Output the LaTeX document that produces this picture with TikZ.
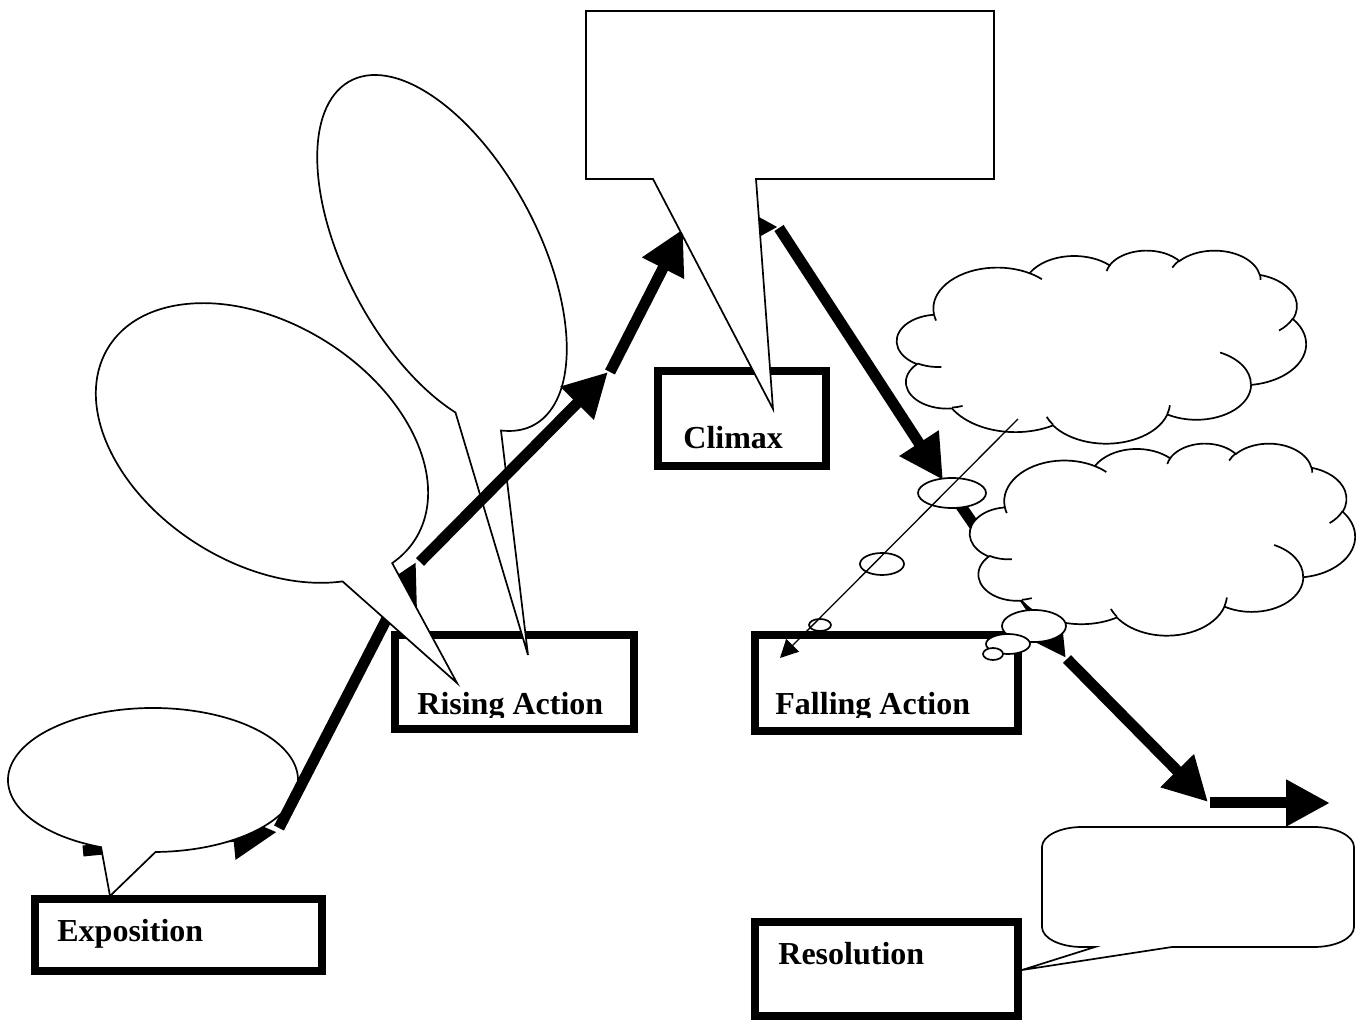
\documentclass[tikz,border=0pt]{standalone}
\usepackage{fontspec}
\setmainfont{Liberation Serif}
\usepackage{tikz}
\usetikzlibrary{arrows.meta,calc}

% cloud outline of a thought callout, in a 432 x 432 box
\newcommand{\thinkcloud}{%
  \filldraw[bubble] (39.00,143.70)
    foreach \rx/\ry/\sa/\sw [evaluate={\sa as \tbeg using atan2(\rx*sin(\sa),\ry*cos(\sa))},
        evaluate={\sw as \tsweep using mod(atan2(\rx*sin(\sa+\sw),\ry*cos(\sa+\sw))-atan2(\rx*sin(\sa),\ry*cos(\sa))+720,360)}]
    in {67.53/91.90/-190.4875/123.7805, 53.33/72.67/-144.1024/89.9452,
        43.65/59.45/-145.8079/99.7230, 48.57/65.95/-130.9861/117.2417,
        53.33/72.73/-78.7089/109.0269, 67.75/92.20/-46.2673/130.2690,
        57.85/78.67/0.6250/114.0333, 67.52/92.15/22.4516/115.1726,
        77.20/105.43/66.2426/75.7110, 43.60/59.18/-274.9421/146.7356,
        43.45/59.45/-246.8285/152.5189}
    { arc[start angle=\tbeg, delta angle=\tsweep, x radius=\rx, y radius=\ry] } -- cycle;
  % inner strokes of the puffs
  \draw[outline]
    foreach \px/\py/\rx/\ry/\sa/\sw [evaluate={\sa as \tbeg using atan2(\rx*sin(\sa),\ry*cos(\sa))},
        evaluate={\sw as \tsweep using mod(atan2(\rx*sin(\sa+\sw),\ry*cos(\sa+\sw))-atan2(\rx*sin(\sa),\ry*cos(\sa))+720,360)}]
    in {46.93/261.77/43.45/59.45/86.742/26.4295, 69.28/348.99/43.60/59.18/73.6105/11.4475,
        164.78/390.90/67.52/92.15/137.6242/14.0811, 288.27/347.51/67.52/92.15/6.4533/15.9984,
        341.29/229.54/57.85/78.67/-70.2924/70.9174, 417.98/153.54/53.33/72.73/30.3180/27.7515,
        383.24/54.26/48.57/65.95/-13.7443/14.8589, 290.78/39.52/48.57/65.95/-149.1815/18.1954,
        221.41/47.20/43.65/59.45/-163.4943/17.6864, 140.00/51.92/67.53/91.90/-66.7070/12.3194,
        41.27/157.89/67.53/91.90/157.6544/11.8582}
    { (\px,\py) arc[start angle=\tbeg, delta angle=\tsweep, x radius=\rx, y radius=\ry] };
}

\begin{document}
\begin{tikzpicture}[x=0.5pt, y=-0.5pt,
    outline/.style={draw=black, line width=0.85pt},
    bubble/.style={outline, fill=white},
    stage/.style={draw=black, line width=4pt, fill=white, inner sep=0pt},
    stagetext/.style={font=\bfseries\fontsize{16}{19}\selectfont, anchor=base west, inner sep=0pt},
    plot/.style={line width=5.5pt, -{Triangle[length=22pt, width=22pt]}},
    hint/.style={line width=0.65pt, -{Triangle[length=9pt, width=9pt]}}
]
\useasboundingbox (0,0) rectangle (1361,1020);

% points of the plot line
\coordinate (e0) at (83,851);   \coordinate (e1) at (277,832);
\coordinate (r0) at (279,828);  \coordinate (r1) at (416,562);
\coordinate (r2) at (420,562);  \coordinate (r3) at (608,372);
\coordinate (r4) at (610,372);  \coordinate (c0) at (683,229);
\coordinate (c1) at (690,227);  \coordinate (c2) at (778,227);
\coordinate (f0) at (779,228);  \coordinate (f1) at (943,480);
\coordinate (f2) at (945,483);  \coordinate (f3) at (1066,658);
\coordinate (f4) at (1067,659); \coordinate (s0) at (1208,802);
\coordinate (s1) at (1210,803); \coordinate (s2) at (1330,803);
\coordinate (t0) at (1018,419); \coordinate (t1) at (780,658);
% tips of the callout tails
\coordinate (tipE) at (110,896);
\coordinate (tipA) at (457,683);
\coordinate (tipB) at (528,655);
\coordinate (tipC) at (773,409);
\coordinate (tipR) at (1022,970);

% label boxes
\node[stage, minimum width=143.5pt, minimum height=36pt] (expbox) at (178.5,935) {};
\node[stage, minimum width=119.5pt, minimum height=47pt] (risebox) at (514.5,682) {};
\node[stage, minimum width=84pt, minimum height=47.5pt] (climbox) at (742,418.5) {};
\node[stage, minimum width=131.5pt, minimum height=48pt] (fallbox) at (886.5,683) {};
\node[stage, minimum width=131.5pt, minimum height=47pt] (resbox) at (886.5,969) {};

\draw[plot] (e0) -- (e1);
% exposition callout
\filldraw[bubble] (153,780) ++(111:145 and 72)
    arc[start angle=111, end angle=449, x radius=145, y radius=72] -- (tipE) -- cycle;
\draw[plot] (r0) -- (r1);

% rising action callouts
\begin{scope}[shift={(262,443)}, rotate=-32]
  \filldraw[bubble] (38.5:181 and 120)
      arc[start angle=38.5, end angle=375.9, x radius=181, y radius=120] -- (tipA) -- cycle;
\end{scope}
\begin{scope}[shift={(442,253)}, rotate=-62]
  \filldraw[bubble] (41:195 and 96)
      arc[start angle=41, end angle=379, x radius=195, y radius=96] -- (tipB) -- cycle;
\end{scope}

\foreach \a/\b in {r2/r3, r4/c0, c1/c2, f0/f1, f2/f3, f4/s0, s1/s2}
  \draw[plot] (\a) -- (\b);

% climax callout
\filldraw[bubble] (586,11) -- (994,11) -- (994,179) -- (756,179) -- (tipC)
    -- (653,179) -- (586,179) -- cycle;

% falling action thoughts
\begin{scope}[shift={(897,250)}, xscale=409/432, yscale=193/432]
  \thinkcloud
\end{scope}
\filldraw[bubble] (952,493) ellipse[x radius=34, y radius=15];
\filldraw[bubble] (882,564) ellipse[x radius=22, y radius=11];
\filldraw[bubble] (820,625) ellipse[x radius=11, y radius=6];
\begin{scope}[shift={(970,443)}, xscale=385/432, yscale=192/432]
  \thinkcloud
\end{scope}
\filldraw[bubble] (1034,626) ellipse[x radius=32, y radius=16];
\filldraw[bubble] (1008,644) ellipse[x radius=22, y radius=10];
\filldraw[bubble] (993,654) ellipse[x radius=10, y radius=6];

% resolution callout
\filldraw[bubble] (1042,847) arc[start angle=180, end angle=270, x radius=40, y radius=20]
    -- (1314,827) arc[start angle=270, end angle=360, x radius=40, y radius=20]
    -- (1354,927) arc[start angle=0, end angle=90, x radius=40, y radius=20]
    -- (1172,947) -- (tipR) -- (1095,947) -- (1082,947)
    arc[start angle=90, end angle=180, x radius=40, y radius=20] -- cycle;

\draw[hint] (t0) -- (t1);

% stage names
\node[stagetext] (exptext) at (57,942) {Exposition};
\begin{scope}
  \clip (395,635) rectangle (634,718);
  \node[stagetext] (risetext) at (417,715) {Rising Action};
\end{scope}
\node[stagetext] (climtext) at (683,449) {Climax};
\begin{scope}
  \clip (755,635) rectangle (1018,718);
  \node[stagetext] (falltext) at (775,715) {Falling Action};
\end{scope}
\node[stagetext] (restext) at (778,965) {Resolution};
\end{tikzpicture}
\end{document}
